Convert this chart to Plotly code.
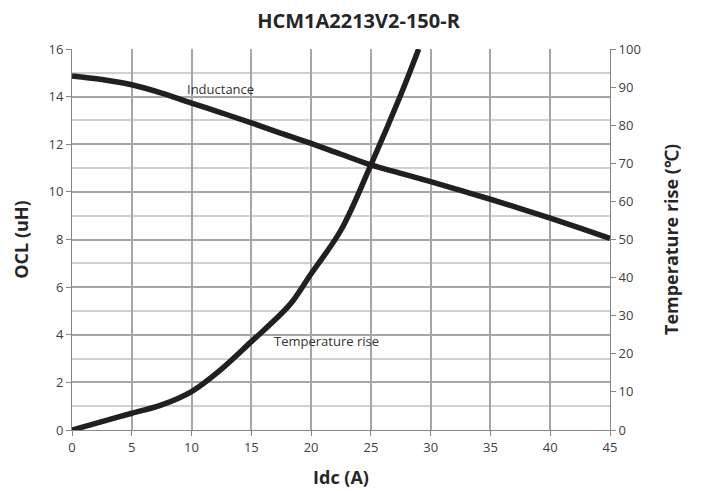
import plotly.graph_objects as go

idc_l = [0, 2.5, 5, 7.5, 10, 12.5, 15, 17.5, 20, 22.5, 25, 27.5, 30, 32.5, 35, 37.5, 40, 42.5, 45]
ocl = [14.87, 14.72, 14.5, 14.15, 13.73, 13.32, 12.9, 12.46, 12.04, 11.58, 11.13, 10.78, 10.43, 10.06, 9.69, 9.3, 8.9, 8.48, 8.05]

idc_t = [0, 2.5, 5, 7.5, 10, 12.5, 15, 17.5, 18.5, 20, 22.5, 25, 27.5, 29]
temp = [0, 2.2, 4.4, 6.6, 10.1, 16.0, 23.2, 30.5, 34.0, 41.0, 52.5, 69.6, 88.0, 100.0]

title = "HCM1A2213V2-150-R"
font = "Open Sans"
axc = "#404040"
ttl = "#262626"

fig = go.Figure()
fig.add_trace(go.Scatter(x=idc_l, y=ocl, mode="lines", line=dict(color="#231f20", width=5.5, shape="spline"),
                         showlegend=False))
fig.add_trace(go.Scatter(x=idc_t, y=temp, mode="lines", line=dict(color="#231f20", width=5.5, shape="spline"),
                         yaxis="y2", showlegend=False))

fig.add_annotation(x=12.4, y=14.3, text="Inductance", showarrow=False, font=dict(size=13, color="#333333", family=font))
fig.add_annotation(x=21.3, y=3.74, text="Temperature rise", showarrow=False, font=dict(size=13, color="#333333", family=font))

fig.update_layout(
    width=701, height=491,
    margin=dict(l=64, r=99, t=41, b=69, autoexpand=False),
    paper_bgcolor="white", plot_bgcolor="white",
    font=dict(family=font, size=13, color=axc),
    title=dict(text="<b>" + title + "</b>", x=0.5, xanchor="center", y=1 - 13 / 491, yref="container",
               yanchor="middle", font=dict(size=20, color=ttl, family=font), automargin=False),
    xaxis=dict(range=[0, 45], dtick=5, tick0=0, showgrid=True, gridcolor="#a6a6a6", gridwidth=1.5,
               ticks="outside", ticklen=5, tickcolor="#868686", showline=True, linecolor="#868686",
               zeroline=False, automargin=False,
               title=dict(text="<b>Idc (A)</b>", font=dict(size=18, color=ttl), standoff=16)),
    yaxis=dict(range=[0, 16], dtick=2, tick0=0, showgrid=True, gridcolor="#a6a6a6", gridwidth=1.5,
               minor=dict(dtick=1, showgrid=True, gridcolor="#d0d0d0", gridwidth=1.5),
               ticks="outside", ticklen=5, tickcolor="#868686", showline=True, linecolor="#868686",
               zeroline=False, automargin=False,
               title=dict(text="<b>OCL (uH)</b>", font=dict(size=18, color=ttl), standoff=15)),
    yaxis2=dict(range=[0, 100], dtick=10, tick0=0, overlaying="y", side="right", showgrid=False,
                ticks="outside", ticklen=5, tickcolor="#868686", showline=True, linecolor="#868686",
                zeroline=False, automargin=False,
                title=dict(text="<b>Temperature rise (℃)</b>", font=dict(size=18, color=ttl), standoff=25)),
)

fig.write_html("out.html")
